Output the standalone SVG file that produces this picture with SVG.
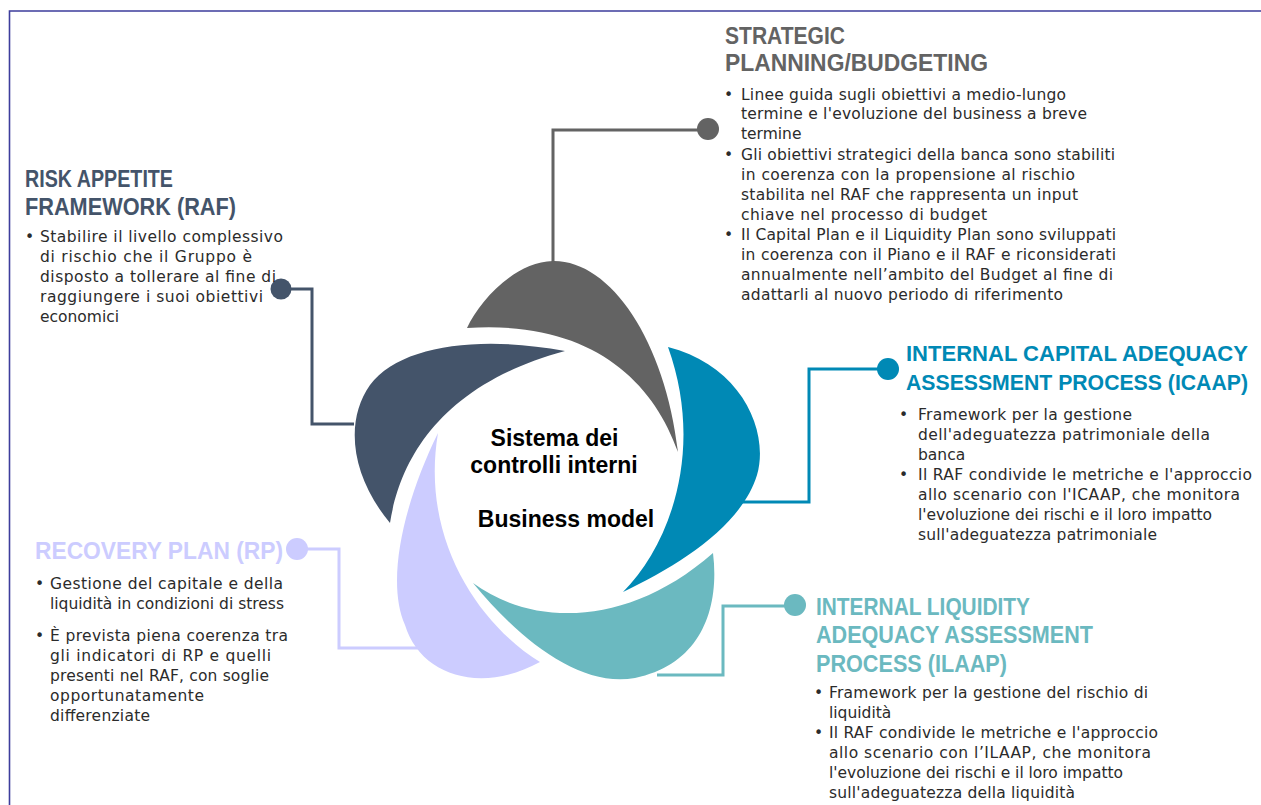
<svg xmlns="http://www.w3.org/2000/svg" width="1261" height="805" viewBox="0 0 1261 805">
<style>
.h{font-family:"Liberation Sans",Arial,sans-serif;font-weight:bold;font-size:23px}
.hs{font-size:21.5px}
.b{font-family:"DejaVu Sans","Liberation Sans",sans-serif;font-size:15.5px;fill:#2b2b2b}
.c{font-family:"Liberation Sans",Arial,sans-serif;font-weight:bold;font-size:23px;fill:#000;text-anchor:middle}
.ln{fill:none;stroke-width:3}
</style>
<rect width="1261" height="805" fill="#fff"/>
<path d="M9.5,805 V11 H1261" fill="none" stroke="#3d3d9c" stroke-width="1.6"/>

<g id="connectors">
  <path class="ln" stroke="#636363" d="M553,262 V130 H708"/>
  <path class="ln" stroke="#44546a" d="M354,424 H312 V289 H282"/>
  <path class="ln" stroke="#ccccff" d="M420,648 H339 V549 H297"/>
  <path class="ln" stroke="#6bb9c0" d="M657,675 H723 V606 H795"/>
  <path class="ln" stroke="#0089b5" d="M742,502 H809 V369 H888"/>
</g>

<g id="petal-strategic">
  <path fill="#636363" d="M467,328 C480,300 515,262 553,261 C610,260 665,340 678,452 C652,378 588,320 467,328 Z"/>
  <circle cx="708" cy="129" r="11" fill="#636363"/>
</g>
<g id="petal-raf">
  <path fill="#44546a" d="M565,351 C480,335 400,345 370,385 C345,420 350,475 390,523 C400,460 440,385 565,351 Z"/>
  <circle cx="281" cy="289" r="10.5" fill="#44546a"/>
</g>
<g id="petal-rp">
  <path fill="#ccccff" d="M438,433 C405,500 385,580 405,625 C420,675 480,695 540,662 C480,625 420,540 438,433 Z"/>
  <circle cx="297" cy="549" r="11" fill="#ccccff"/>
</g>
<g id="petal-ilaap">
  <path fill="#6bb9c0" d="M473,583 C530,625 625,630 713,553 C720,610 700,665 635,678 C580,688 520,640 473,583 Z"/>
  <circle cx="795" cy="605" r="11" fill="#6bb9c0"/>
</g>
<g id="petal-icaap">
  <path fill="#0089b5" d="M668,347 C740,365 770,430 757,475 C742,525 680,565 623,592 C670,545 705,450 668,347 Z"/>
  <circle cx="888" cy="369" r="11" fill="#0089b5"/>
</g>

<g id="center">
  <text class="c" x="554.5" y="446">Sistema dei</text>
  <text class="c" x="554" y="473">controlli interni</text>
  <text class="c" x="566" y="527">Business model</text>
</g>

<g id="strategic">
  <text class="h" fill="#636363" x="725" y="44" textLength="120" lengthAdjust="spacingAndGlyphs">STRATEGIC</text>
  <text class="h" fill="#636363" x="725" y="71" textLength="263" lengthAdjust="spacingAndGlyphs">PLANNING/BUDGETING</text>
  <text class="b" x="724" y="100">•</text>
  <text class="b" x="724" y="160">•</text>
  <text class="b" x="724" y="240">•</text>
  <text class="b" x="741" y="100" textLength="325">Linee guida sugli obiettivi a medio-lungo</text>
  <text class="b" x="741" y="119" textLength="346">termine e l'evoluzione del business a breve</text>
  <text class="b" x="741" y="139">termine</text>
  <text class="b" x="741" y="160" textLength="374">Gli obiettivi strategici della banca sono stabiliti</text>
  <text class="b" x="741" y="180" textLength="334">in coerenza con la propensione al rischio</text>
  <text class="b" x="741" y="200" textLength="337">stabilita nel RAF che rappresenta un input</text>
  <text class="b" x="741" y="220" textLength="246">chiave nel processo di budget</text>
  <text class="b" x="741" y="240" textLength="375">Il Capital Plan e il Liquidity Plan sono sviluppati</text>
  <text class="b" x="741" y="260" textLength="375">in coerenza con il Piano e il RAF e riconsiderati</text>
  <text class="b" x="741" y="280" textLength="372">annualmente nell’ambito del Budget al fine di</text>
  <text class="b" x="741" y="300" textLength="322">adattarli al nuovo periodo di riferimento</text>
</g>

<g id="raf">
  <text class="h" fill="#44546a" x="25" y="187" textLength="148" lengthAdjust="spacingAndGlyphs">RISK APPETITE</text>
  <text class="h" fill="#44546a" x="25" y="215" textLength="211" lengthAdjust="spacingAndGlyphs">FRAMEWORK (RAF)</text>
  <text class="b" x="25" y="242">•</text>
  <text class="b" x="40" y="242" textLength="243">Stabilire il livello complessivo</text>
  <text class="b" x="40" y="262" textLength="212">di rischio che il Gruppo è</text>
  <text class="b" x="40" y="282" textLength="236">disposto a tollerare al fine di</text>
  <text class="b" x="40" y="302" textLength="223">raggiungere i suoi obiettivi</text>
  <text class="b" x="40" y="322">economici</text>
</g>

<g id="icaap">
  <text class="h hs" fill="#0089b5" x="906" y="361" textLength="342" lengthAdjust="spacingAndGlyphs">INTERNAL CAPITAL ADEQUACY</text>
  <text class="h hs" fill="#0089b5" x="906" y="390" textLength="342" lengthAdjust="spacingAndGlyphs">ASSESSMENT PROCESS (ICAAP)</text>
  <text class="b" x="899" y="420">•</text>
  <text class="b" x="899" y="480">•</text>
  <text class="b" x="918" y="420" textLength="214">Framework per la gestione</text>
  <text class="b" x="918" y="440" textLength="292">dell'adeguatezza patrimoniale della</text>
  <text class="b" x="918" y="460">banca</text>
  <text class="b" x="918" y="480" textLength="334">Il RAF condivide le metriche e l'approccio</text>
  <text class="b" x="918" y="500" textLength="322">allo scenario con l'ICAAP, che monitora</text>
  <text class="b" x="918" y="520" textLength="294">l'evoluzione dei rischi e il loro impatto</text>
  <text class="b" x="918" y="540" textLength="239">sull'adeguatezza patrimoniale</text>
</g>

<g id="ilaap">
  <text class="h" fill="#6bb9c0" x="816" y="615" textLength="214" lengthAdjust="spacingAndGlyphs">INTERNAL LIQUIDITY</text>
  <text class="h" fill="#6bb9c0" x="816" y="643" textLength="277" lengthAdjust="spacingAndGlyphs">ADEQUACY ASSESSMENT</text>
  <text class="h" fill="#6bb9c0" x="816" y="672" textLength="191" lengthAdjust="spacingAndGlyphs">PROCESS (ILAAP)</text>
  <text class="b" x="814" y="698">•</text>
  <text class="b" x="814" y="738">•</text>
  <text class="b" x="829" y="698" textLength="319">Framework per la gestione del rischio di</text>
  <text class="b" x="829" y="718">liquidità</text>
  <text class="b" x="829" y="738" textLength="329">Il RAF condivide le metriche e l'approccio</text>
  <text class="b" x="829" y="758" textLength="322">allo scenario con l’ILAAP, che monitora</text>
  <text class="b" x="829" y="778" textLength="294">l'evoluzione dei rischi e il loro impatto</text>
  <text class="b" x="829" y="798" textLength="246">sull'adeguatezza della liquidità</text>
</g>

<g id="rp">
  <text class="h" fill="#ccccff" x="35" y="559" textLength="248" lengthAdjust="spacingAndGlyphs">RECOVERY PLAN (RP)</text>
  <text class="b" x="35" y="589">•</text>
  <text class="b" x="35" y="641">•</text>
  <text class="b" x="50" y="589" textLength="233">Gestione del capitale e della</text>
  <text class="b" x="50" y="609" textLength="234">liquidità in condizioni di stress</text>
  <text class="b" x="50" y="641" textLength="238">È prevista piena coerenza tra</text>
  <text class="b" x="50" y="661" textLength="221">gli indicatori di RP e quelli</text>
  <text class="b" x="50" y="681" textLength="219">presenti nel RAF, con soglie</text>
  <text class="b" x="50" y="701" textLength="154">opportunatamente</text>
  <text class="b" x="50" y="721" textLength="100">differenziate</text>
</g>
</svg>
